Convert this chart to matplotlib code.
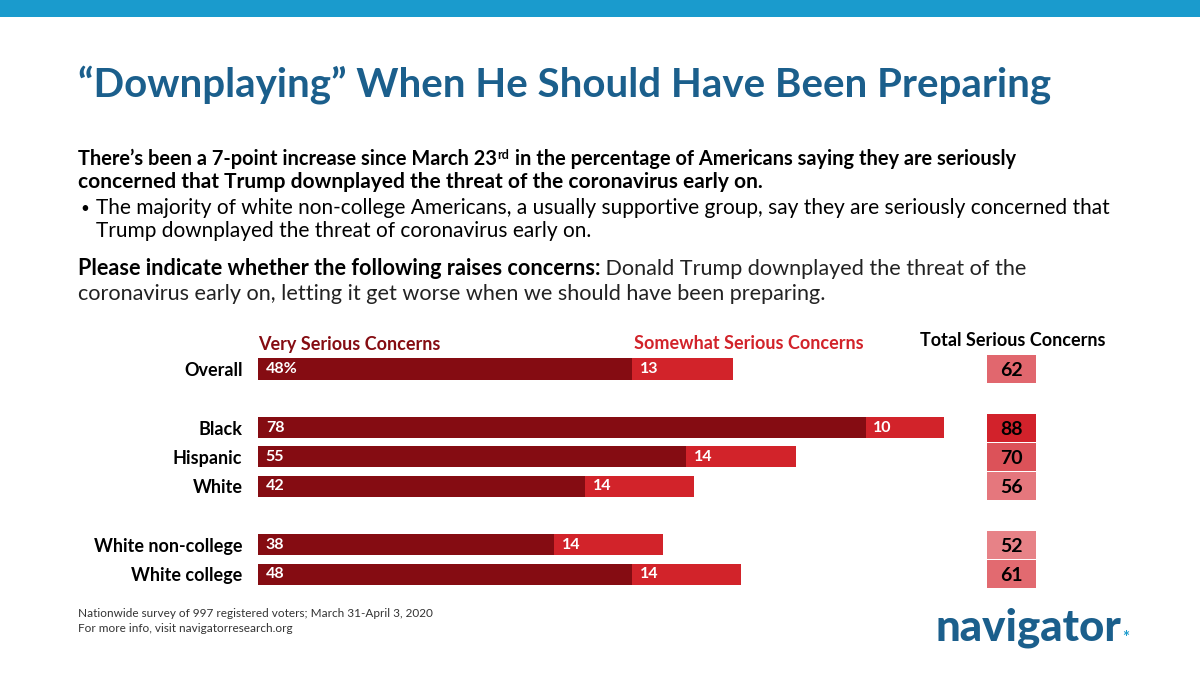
import matplotlib
matplotlib.use("Agg")
import matplotlib.pyplot as plt
from matplotlib.colors import LinearSegmentedColormap, Normalize
from matplotlib.patches import Rectangle

# ---- data ----
groups = ["Overall", "Black", "Hispanic", "White", "White non-college", "White college"]
very_serious = [48, 78, 55, 42, 38, 48]
somewhat_serious = [13, 10, 14, 14, 14, 14]
total_serious = [62, 88, 70, 56, 52, 61]
very_labels = ["48%", "78", "55", "42", "38", "48"]
row_pos = [0, 2, 3, 4, 6, 7]

DARK = "#850C12"
LIGHT = "#D2232A"
TITLE_BLUE = "#1B5F8C"
TOP_BLUE = "#1A9BCD"
FONT = "Lato"

W, H = 1200, 675
fig = plt.figure(figsize=(12, 6.75), dpi=100)
fig.patch.set_facecolor("white")

# full-figure background axes for text
bg = fig.add_axes([0, 0, 1, 1])
bg.set_xlim(0, W)
bg.set_ylim(H, 0)
bg.axis("off")

# top band
bg.add_patch(Rectangle((0, 0), W, 17, facecolor=TOP_BLUE, edgecolor="none"))

# title
bg.text(78, 85, "\u201cDownplaying\u201d When He Should Have Been Preparing",
        fontsize=29, fontweight="bold", color=TITLE_BLUE, family=FONT,
        ha="left", va="center")

BODY = 15.0
L1 = 14.4
# body text
t1 = bg.text(78, 165, "There\u2019s been a 7-point increase since March 23",
             fontsize=L1, fontweight="bold", color="black", family=FONT,
             ha="left", va="baseline")
a2 = bg.annotate("rd", xy=(1, 0), xycoords=t1, xytext=(0.5, 6), textcoords="offset points",
                 fontsize=9, fontweight="bold", family=FONT, ha="left", va="bottom",
                 annotation_clip=False)
bg.annotate(" in the percentage of Americans saying they are seriously", xy=(1, 0),
            xycoords=a2, xytext=(0, -6), textcoords="offset points",
            fontsize=L1, fontweight="bold", family=FONT, ha="left", va="bottom",
            annotation_clip=False)
bg.text(78, 188, "concerned that Trump downplayed the threat of the coronavirus early on.",
        fontsize=BODY, fontweight="bold", color="black", family=FONT,
        ha="left", va="baseline")
bg.text(80, 213, "\u2022", fontsize=11, color="black", family=FONT,
        ha="left", va="baseline")
bg.text(96, 214, "The majority of white non-college Americans, a usually supportive group, say they are seriously concerned that",
        fontsize=BODY, color="black", family=FONT, ha="left", va="baseline")
bg.text(96, 237, "Trump downplayed the threat of coronavirus early on.",
        fontsize=BODY, color="black", family=FONT, ha="left", va="baseline")

Q = 15.6
q1 = bg.text(78, 275, "Please indicate whether the following raises concerns:",
             fontsize=Q, fontweight="bold", color="black", family=FONT,
             ha="left", va="baseline")
bg.annotate(" Donald Trump downplayed the threat of the", xy=(1, 0), xycoords=q1,
            xytext=(0, 0), textcoords="offset points", fontsize=Q, family=FONT,
            color="#222222", ha="left", va="bottom", annotation_clip=False)
bg.text(78, 300, "coronavirus early on, letting it get worse when we should have been preparing.",
        fontsize=Q, color="#222222", family=FONT, ha="left", va="baseline")

# ---- bar chart axes ----
px_per_unit = 7.79
ax_left = 258
ax_w = 100 * px_per_unit
y_top_px, y_bot_px = 369 - 1.5 * 29.3, 369 + 8 * 29.3
ax = fig.add_axes([ax_left / W, 1 - y_bot_px / H, ax_w / W, (y_bot_px - y_top_px) / H])
ax.set_xlim(0, 100)
ax.set_ylim(8, -1.5)
ax.axis("off")

bh = 0.72
ax.barh(row_pos, very_serious, height=bh, color=DARK, edgecolor="none")
ax.barh(row_pos, somewhat_serious, left=very_serious, height=bh, color=LIGHT, edgecolor="none")

for y, v, s, vl in zip(row_pos, very_serious, somewhat_serious, very_labels):
    ax.text(1.0, y, vl, color="white", fontsize=11.5, fontweight="bold", family=FONT,
            ha="left", va="center")
    ax.text(v + 1.0, y, str(s), color="white", fontsize=11.5, fontweight="bold", family=FONT,
            ha="left", va="center")

for y, g in zip(row_pos, groups):
    ax.text(-2.0, y + 0.05, g, color="black", fontsize=13, fontweight="bold", family=FONT,
            ha="right", va="center")

# totals boxes
cmap = LinearSegmentedColormap.from_list("tot", ["#E8878C", "#D2222B"])
norm = Normalize(vmin=50, vmax=88)
bx0 = (987 - ax_left) / px_per_unit
bw = 49 / px_per_unit
for y, t in zip(row_pos, total_serious):
    ax.add_patch(Rectangle((bx0, y - 0.48), bw, 0.96, facecolor=cmap(norm(t)),
                           edgecolor="none"))
    ax.text(bx0 + bw / 2, y + 0.05, str(t), color="black", fontsize=14, fontweight="bold",
            family=FONT, ha="center", va="center")

# headers
ax.text(0, -0.82, "Very Serious Concerns", color=DARK, fontsize=13, fontweight="bold",
        family=FONT, ha="left", va="center")
ax.text((634 - ax_left) / px_per_unit, -0.88, "Somewhat Serious Concerns", color=LIGHT,
        fontsize=13, fontweight="bold", family=FONT, ha="left", va="center")
ax.text((1013 - ax_left) / px_per_unit, -0.98, "Total Serious Concerns", color="black",
        fontsize=13, fontweight="bold", family=FONT, ha="center", va="center")

# footnote
bg.text(78, 617, "Nationwide survey of 997 registered voters; March 31-April 3, 2020",
        fontsize=8.5, color="#333333", family=FONT, ha="left", va="baseline")
bg.text(78, 632, "For more info, visit navigatorresearch.org",
        fontsize=8.5, color="#333333", family=FONT, ha="left", va="baseline")

# logo
logo = bg.text(935, 640, "navigator", fontsize=31.5, fontweight="black",
               color=TITLE_BLUE, family=FONT, ha="left", va="baseline")
bg.annotate("*", xy=(1, 0), xycoords=logo, xytext=(1, 1), textcoords="offset points",
            fontsize=12, fontweight="bold", color=TOP_BLUE, family=FONT,
            ha="left", va="bottom", annotation_clip=False)

fig.savefig("out.png", dpi=100, facecolor="white")
